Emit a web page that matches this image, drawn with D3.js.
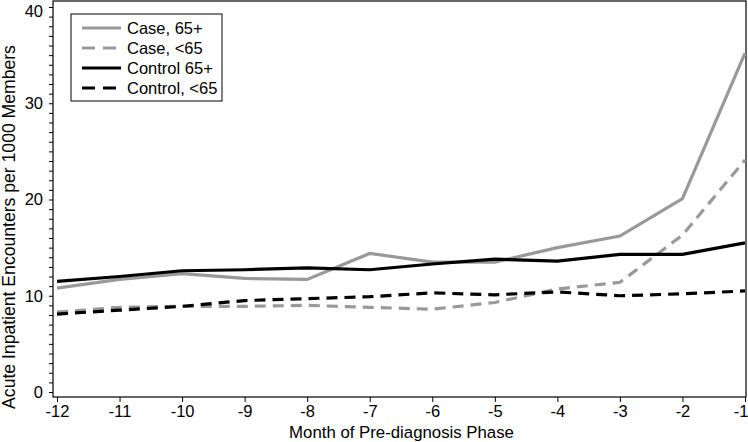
<!DOCTYPE html>
<html><head><meta charset="utf-8">
<script src="https://cdn.jsdelivr.net/npm/d3@7"></script>
<style>
html,body{margin:0;padding:0;background:#fff;}
svg{display:block;font-family:"Liberation Sans",Arial,sans-serif;}
</style></head>
<body>
<script>
const months = [-12,-11,-10,-9,-8,-7,-6,-5,-4,-3,-2,-1];
const caseOld = [10.8,11.7,12.3,11.8,11.7,14.4,13.5,13.5,15.0,16.2,20.1,35.2];
const caseYoung = [8.3,8.8,8.9,8.9,9.0,8.8,8.6,9.3,10.7,11.4,16.3,24.1];
const controlOld = [11.5,12.0,12.6,12.7,12.9,12.7,13.3,13.8,13.6,14.3,14.3,15.5];
const controlYoung = [8.1,8.5,8.9,9.5,9.7,9.9,10.3,10.1,10.4,10.0,10.2,10.5];
const seriesNames = ["Case, 65+","Case, <65","Control 65+","Control, <65"];
const yTicks = [0,10,20,30,40];
const xTitle = "Month of Pre-diagnosis Phase";
const yTitle = "Acute Inpatient Encounters per 1000 Members";

const W=748,H=442;
const frame={l:53,r:746,t:1,b:397};
const x=d3.scaleLinear().domain([-12,-1]).range([57,745]);
const y=d3.scaleLinear().domain([0,40]).range([392,7]);

const svg=d3.select("body").append("svg").attr("width",W).attr("height",H);

const styles=[
 {color:"#999999",dash:null},
 {color:"#999999",dash:"11,7"},
 {color:"#000000",dash:null},
 {color:"#000000",dash:"11,7"}
];
const data=[caseOld,caseYoung,controlOld,controlYoung];

// frame
svg.append("rect").attr("x",frame.l).attr("y",frame.t).attr("width",frame.r-frame.l).attr("height",frame.b-frame.t)
 .attr("fill","none").attr("stroke","#000").attr("stroke-width",1.2);

// y axis
const yAxis=d3.axisLeft(y).tickValues(d3.range(0,41,1)).tickSize(4).tickFormat(d=>yTicks.includes(d)?d:"");
const gy=svg.append("g").attr("transform",`translate(${frame.l},0)`).call(yAxis);
gy.select(".domain").remove();
gy.selectAll("line").attr("stroke","#000").attr("stroke-width",1);
gy.selectAll("text").attr("font-size",16.5).attr("fill","#000").attr("x",-10).style("font-family","inherit");
gy.selectAll(".tick").filter(d=>d===40).select("text").attr("dy","0.55em");

// x axis
const xAxis=d3.axisBottom(x).tickValues(months).tickSize(5).tickFormat(d=>d);
const gx=svg.append("g").attr("transform",`translate(0,${frame.b})`).call(xAxis);
gx.select(".domain").remove();
gx.selectAll("line").attr("stroke","#000").attr("stroke-width",1);
gx.selectAll("text").attr("font-size",16.5).attr("fill","#000").attr("y",8).style("font-family","inherit");
gx.selectAll(".tick").filter(d=>d===-1).select("text").attr("text-anchor","end").attr("x",3);

// titles
svg.append("text").attr("x",(frame.l+frame.r)/2+2).attr("y",438).attr("text-anchor","middle")
 .attr("font-size",16.8).text(xTitle);
svg.append("text").attr("transform",`translate(15,227) rotate(-90)`).attr("text-anchor","middle")
 .attr("font-size",17.6).text(yTitle);

// lines
const line=d3.line().x((d,i)=>x(months[i])).y(d=>y(d));
data.forEach((s,k)=>{
 svg.append("path").datum(s).attr("d",line).attr("fill","none")
  .attr("stroke",styles[k].color).attr("stroke-width",3.2)
  .attr("stroke-dasharray",styles[k].dash);
});

// legend
const lg=svg.append("g");
lg.append("rect").attr("x",71).attr("y",14).attr("width",151).attr("height",87)
 .attr("fill","#fff").attr("stroke","#000").attr("stroke-width",1);
seriesNames.forEach((n,k)=>{
 const yy=28+k*20;
 lg.append("line").attr("x1",82).attr("x2",121).attr("y1",yy).attr("y2",yy)
  .attr("stroke",styles[k].color).attr("stroke-width",3.2).attr("stroke-dasharray",styles[k].dash?"13,8":null);
 lg.append("text").attr("x",127).attr("y",yy+6).attr("font-size",16.5).text(n);
});
</script>
</body></html>
